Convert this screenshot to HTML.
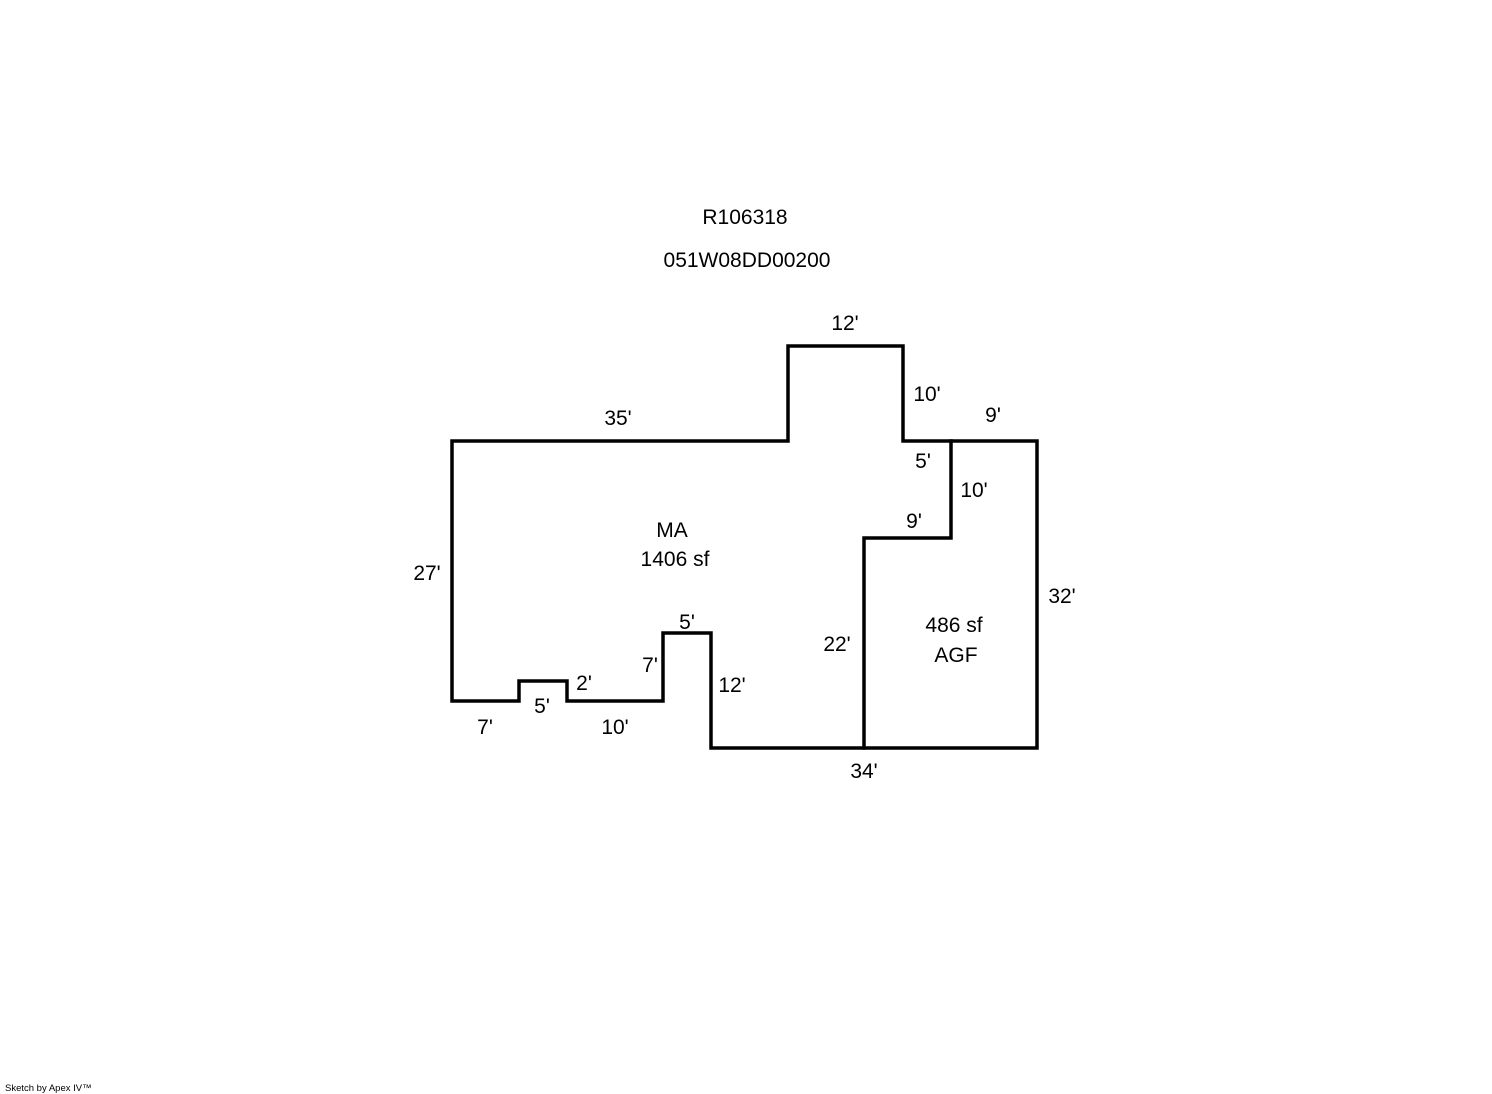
<!DOCTYPE html>
<html><head><meta charset="utf-8"><style>html,body{margin:0;padding:0;background:#fff}svg{display:block}</style></head>
<body>
<svg width="1492" height="1094" viewBox="0 0 1492 1094" xmlns="http://www.w3.org/2000/svg" font-family="Liberation Sans, Arial, sans-serif" font-size="21" fill="#000">
<g fill="none" stroke="#000" stroke-width="3.5" stroke-linejoin="miter" stroke-linecap="square">
<polygon points="452,441 788,441 788,346 903,346 903,441 1037,441 1037,748 711,748 711,633 663,633 663,701 567,701 567,681 519,681 519,701 452,701"/>
<polyline points="951,441 951,538 864,538 864,748"/>
</g>
<g text-anchor="middle">
<text x="745" y="224">R106318</text>
<text x="747" y="267">051W08DD00200</text>
<text x="845" y="330">12'</text>
<text x="927" y="401">10'</text>
<text x="993" y="422">9'</text>
<text x="618" y="425">35'</text>
<text x="923" y="468">5'</text>
<text x="974" y="497">10'</text>
<text x="914" y="528">9'</text>
<text x="672" y="537">MA</text>
<text x="675" y="566">1406 sf</text>
<text x="427" y="580">27'</text>
<text x="1062" y="603">32'</text>
<text x="687" y="629">5'</text>
<text x="954" y="632">486 sf</text>
<text x="956" y="662">AGF</text>
<text x="837" y="651">22'</text>
<text x="650" y="672">7'</text>
<text x="584" y="690">2'</text>
<text x="732" y="692">12'</text>
<text x="542" y="713">5'</text>
<text x="485" y="734">7'</text>
<text x="615" y="734">10'</text>
<text x="864" y="778">34'</text>
</g>
<text x="5" y="1091" font-size="9.5">Sketch by Apex IV™</text>
</svg>
</body></html>
